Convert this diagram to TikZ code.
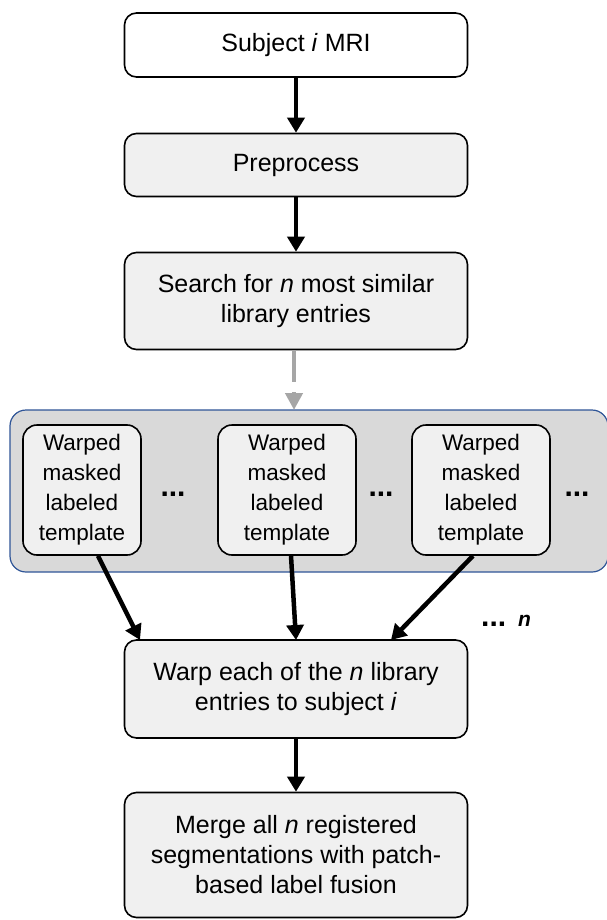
\documentclass[tikz,border=0pt]{standalone}
\usepackage{fontspec}
\setmainfont{Liberation Sans}
\usetikzlibrary{arrows.meta}
\definecolor{boxgray}{HTML}{F0F0F0}
\definecolor{panelgray}{HTML}{D9D9D9}
\definecolor{panelblue}{HTML}{2F5597}
\definecolor{dashgray}{HTML}{A6A6A6}
\tikzset{
  x=1pt, y=-1pt,
  stepbox/.style={draw=black, line width=1.6pt, rounded corners=12pt, fill=boxgray,
    minimum width=343pt, align=center, font=\fontsize{25}{30}\selectfont, inner sep=0pt},
  tmplbox/.style={draw=black, line width=1.6pt, rounded corners=14pt, fill=boxgray,
    minimum width=130pt, minimum height=130pt, align=center,
    font=\fontsize{22.5}{30}\selectfont, inner sep=0pt},
  flow/.style={line width=4.5pt, -{Triangle[width=17pt,length=15pt]}},
  dots/.style={font=\fontsize{30}{30}\selectfont\bfseries, inner sep=0pt},
}
\begin{document}
\begin{tikzpicture}
\useasboundingbox (0,0) rectangle (607,920);

% main pipeline boxes
\node[stepbox, fill=white, minimum height=64pt] (mri) at (296,45) {Subject \textit{i} MRI};
\node[stepbox, minimum height=63pt] (pre) at (296,165) {Preprocess};
\node[stepbox, minimum height=97pt] (search) at (296,301) {Search for \textit{n} most similar\\library entries};

% panel holding the warped templates
\node[draw=panelblue, line width=1.2pt, fill=panelgray, rounded corners=16pt,
      minimum width=598pt, minimum height=162pt, inner sep=0pt] (panel) at (309,491) {};

\node[tmplbox, minimum width=118pt] (t1) at (82,490) {Warped\\masked\\labeled\\template};
\node[tmplbox, minimum width=138pt] (t2) at (287,490) {Warped\\masked\\labeled\\template};
\node[tmplbox, minimum width=138pt] (t3) at (481,490) {Warped\\masked\\labeled\\template};

\node[dots] (d1) at (173,494) {...};
\node[dots] (d2) at (381,494) {...};
\node[dots] (d3) at (577,494) {...};

\node[stepbox, minimum height=98pt] (warp) at (296,689) {Warp each of the \textit{n} library\\entries to subject \textit{i}};
\node[stepbox, minimum height=125pt] (merge) at (296,855) {Merge all \textit{n} registered\\segmentations with patch-\\based label fusion};

\node[dots, anchor=west] (dn) at (481,621) {...\hspace{12pt}{\fontsize{21}{21}\selectfont\textbf{\textit{n}}}};

% connectors
\draw[flow] (mri) -- (pre);
\draw[flow] (pre) -- (search);
\coordinate (pin) at (294,410);
\draw[line width=4.5pt, draw=dashgray, dash pattern=on 32pt off 10pt,
      -{Triangle[width=17pt,length=17pt]}, color=dashgray] (search.south -| pin) -- (pin);
\coordinate (w1) at (140,640);
\coordinate (w2) at (296,640);
\coordinate (w3) at (391,640);
\draw[flow] ([xshift=16pt]t1.south) -- (w1);
\draw[flow] ([xshift=4pt]t2.south) -- (w2);
\draw[flow] ([xshift=-8pt]t3.south) -- (w3);
\draw[flow] (warp) -- (merge);
\end{tikzpicture}
\end{document}
